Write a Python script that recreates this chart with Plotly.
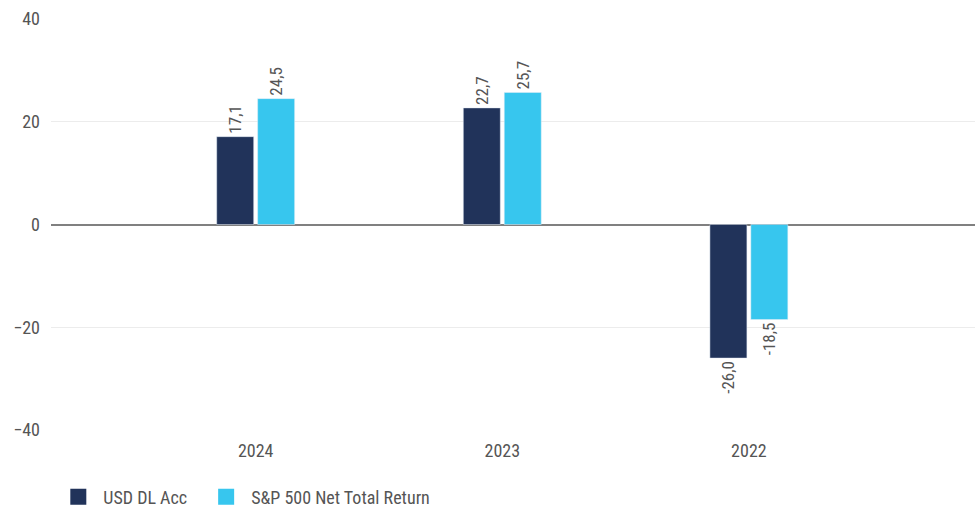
import plotly.graph_objects as go

categories = ["2024", "2023", "2022"]
usd_dl_acc = [17.1, 22.7, -26.0]
sp500_ntr = [24.5, 25.7, -18.5]
series_names = ["USD DL Acc", "S&P 500 Net Total Return"]
y_ticks = [-40, -20, 0, 20, 40]

FONT = "Liberation Sans Narrow, Roboto Condensed, Arial Narrow, DejaVu Sans Condensed, sans-serif"
NAVY = "#21335a"
LIGHT = "#37c6ee"
TXT = "#555555"

def lab(vals):
    return [f"{v:.1f}".replace(".", ",") for v in vals]

fig = go.Figure()
for vals, name, col, off in [(usd_dl_acc, series_names[0], NAVY, -0.158),
                             (sp500_ntr, series_names[1], LIGHT, 0.008)]:
    fig.add_trace(go.Bar(
        x=categories, y=vals, name=name, marker_color=col, showlegend=False,
        width=0.15, offset=off, text=lab(vals), textposition="outside",
        textangle=-90, textfont=dict(family=FONT, size=17, color=TXT), cliponaxis=False,
    ))
for name, col, lg in [(series_names[0], NAVY, "legend"), (series_names[1], LIGHT, "legend2")]:
    fig.add_trace(go.Scatter(
        x=[None], y=[None], mode="markers", name=name, legend=lg,
        marker=dict(symbol="square", size=20, color=col), showlegend=True,
    ))

leg_common = dict(orientation="h", xanchor="left", y=-0.163, yanchor="middle",
                  font=dict(family=FONT, size=18, color=TXT), itemwidth=40,
                  bgcolor="rgba(0,0,0,0)")

fig.update_layout(
    width=979, height=508,
    barmode="overlay",
    plot_bgcolor="white", paper_bgcolor="white",
    margin=dict(l=51, r=4, t=19, b=78, autoexpand=False),
    font=dict(family=FONT, size=17, color=TXT),
    showlegend=True,
    legend=dict(x=0.0025, **leg_common),
    legend2=dict(x=0.1625, **leg_common),
    xaxis=dict(type="category", range=[-0.83, 2.917], showgrid=False, showline=False,
               ticks="", ticklabelstandoff=8,
               tickfont=dict(family=FONT, size=18, color=TXT)),
    yaxis=dict(range=[-40, 40], tickvals=y_ticks, showgrid=True, gridcolor="#ececec",
               gridwidth=1, zeroline=True, zerolinecolor="#808080", zerolinewidth=1.5,
               showline=False, ticks="", ticklabelstandoff=10,
               tickfont=dict(family=FONT, size=18, color=TXT)),
)

fig.write_html("out.html", config={"displayModeBar": False},
               post_script="document.body.style.margin='0';document.body.style.overflow='hidden';")
